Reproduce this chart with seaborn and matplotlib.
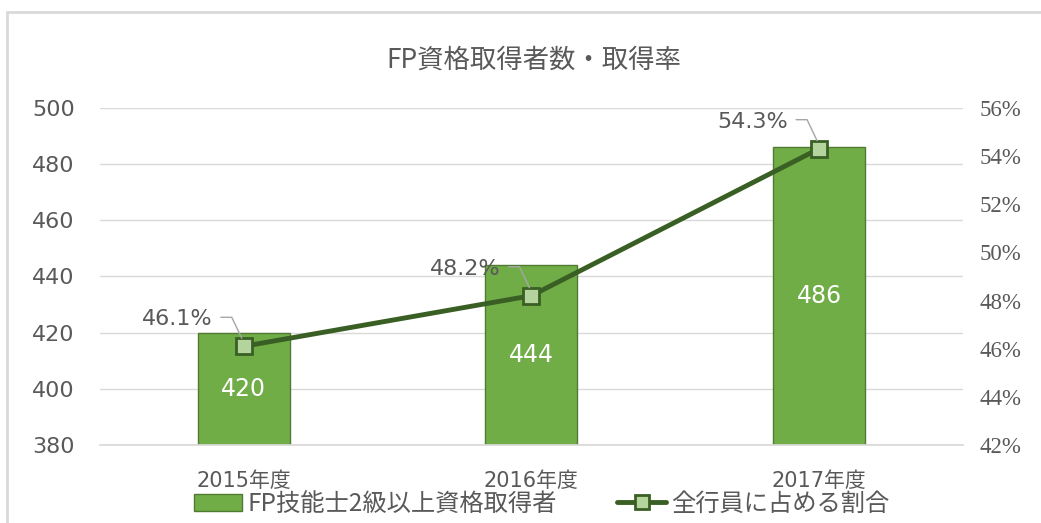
import numpy as np
import pandas as pd
import matplotlib
matplotlib.use('Agg')
import matplotlib.pyplot as plt
from matplotlib.patches import Rectangle
from matplotlib.lines import Line2D
from matplotlib.patches import Patch
import seaborn as sns

# data
years = ['2015年度', '2016年度', '2017年度']
holders = [420, 444, 486]
rates = [46.1, 48.2, 54.3]
bar_name = 'FP技能士2級以上資格取得者'
line_name = '全行員に占める割合'
title = 'FP資格取得者数・取得率'

sns.set_theme(style='white')
plt.rcParams['font.family'] = ['DejaVu Sans', 'Noto Sans CJK JP']

bar_col = '#70AD47'
bar_edge = '#4E7A31'
line_col = '#3A5F24'
mark_face = '#B4D49E'
grey = '#595959'

df = pd.DataFrame({'year': years, 'holders': holders, 'rate': rates})

fig = plt.figure(figsize=(10.41, 5.23), dpi=100)
ax = fig.add_axes([0.096, 0.149, 0.829, 0.645])

sns.barplot(data=df, x='year', y='holders', color=bar_col, width=0.32,
            edgecolor=bar_edge, linewidth=1, saturation=1, ax=ax)
ax.set_ylim(380, 500)
ax.set_yticks(range(380, 501, 20))
ax.set_xlim(-0.5, 2.5)
ax.yaxis.grid(True, color='#D9D9D9', linewidth=1)
ax.set_axisbelow(True)
for s in ax.spines.values():
    s.set_visible(False)
ax.spines['bottom'].set_visible(True)
ax.spines['bottom'].set_color('#D9D9D9')
ax.set_xlabel('')
ax.set_ylabel('')
ax.tick_params(axis='y', labelsize=16, labelcolor=grey, length=0, pad=18)
ax.tick_params(axis='x', labelsize=15, labelcolor=grey, length=0, pad=19)

# values inside bars
for i, v in enumerate(holders):
    ax.text(i, (380 + v) / 2, str(v), ha='center', va='center',
            color='white', fontsize=17)

ax2 = ax.twinx()
sns.lineplot(x=np.arange(len(years)), y=rates, ax=ax2, color=line_col,
             linewidth=3.5, marker='s', markersize=11,
             markerfacecolor=mark_face, markeredgecolor=line_col,
             markeredgewidth=2, zorder=5)
ax2.set_ylim(42, 56)
for s in ax2.spines.values():
    s.set_visible(False)
ax2.set_ylabel('')
ax2.set_yticks(list(range(42, 57, 2)))
ax2.set_yticklabels([f'{t}%' for t in range(42, 57, 2)],
                    family='Liberation Serif', size=16.5)
ax2.tick_params(axis='y', length=0, pad=12, labelcolor=grey)

# rate labels with leader lines (offsets in pixels from the marker)
inv = fig.transFigure.inverted()
for i, r in enumerate(rates):
    px, py = ax2.transData.transform((i, r))
    ax2.annotate(f'{r}%', xy=(i, r), xytext=(-31 * 0.72, 27 * 0.72),
                 textcoords='offset points', ha='right', va='center',
                 fontsize=16, color=grey)
    pts = np.array([[px - 23, py + 29], [px - 12, py + 29], [px - 2, py + 8]])
    fpts = inv.transform(pts)
    fig.add_artist(Line2D(fpts[:, 0], fpts[:, 1], color='#A6A6A6', lw=1,
                          transform=fig.transFigure))

fig.text(0.513, 0.885, title, ha='center', va='center', fontsize=19,
         color=grey, family=['Noto Sans CJK JP', 'DejaVu Sans'])

handles = [Patch(facecolor=bar_col, edgecolor=bar_edge, label=bar_name),
           Line2D([0], [0], color=line_col, lw=3.5, marker='s', markersize=10,
                  markerfacecolor=mark_face, markeredgecolor=line_col,
                  markeredgewidth=2, label=line_name)]
fig.legend(handles=handles, loc='lower center', ncol=2, frameon=False,
           bbox_to_anchor=(0.52, -0.03), labelcolor=grey,
           handlelength=2.0, handletextpad=0.2, columnspacing=2.5,
           prop={'family': ['Noto Sans CJK JP', 'DejaVu Sans'], 'size': 17.5})

fig.patches.append(Rectangle((7 / 1041, -0.1), 1.2, 1 - 12 / 523 + 0.1,
                             transform=fig.transFigure, fill=False,
                             edgecolor='#D9D9D9', linewidth=2))

fig.savefig('out.png', dpi=100)
